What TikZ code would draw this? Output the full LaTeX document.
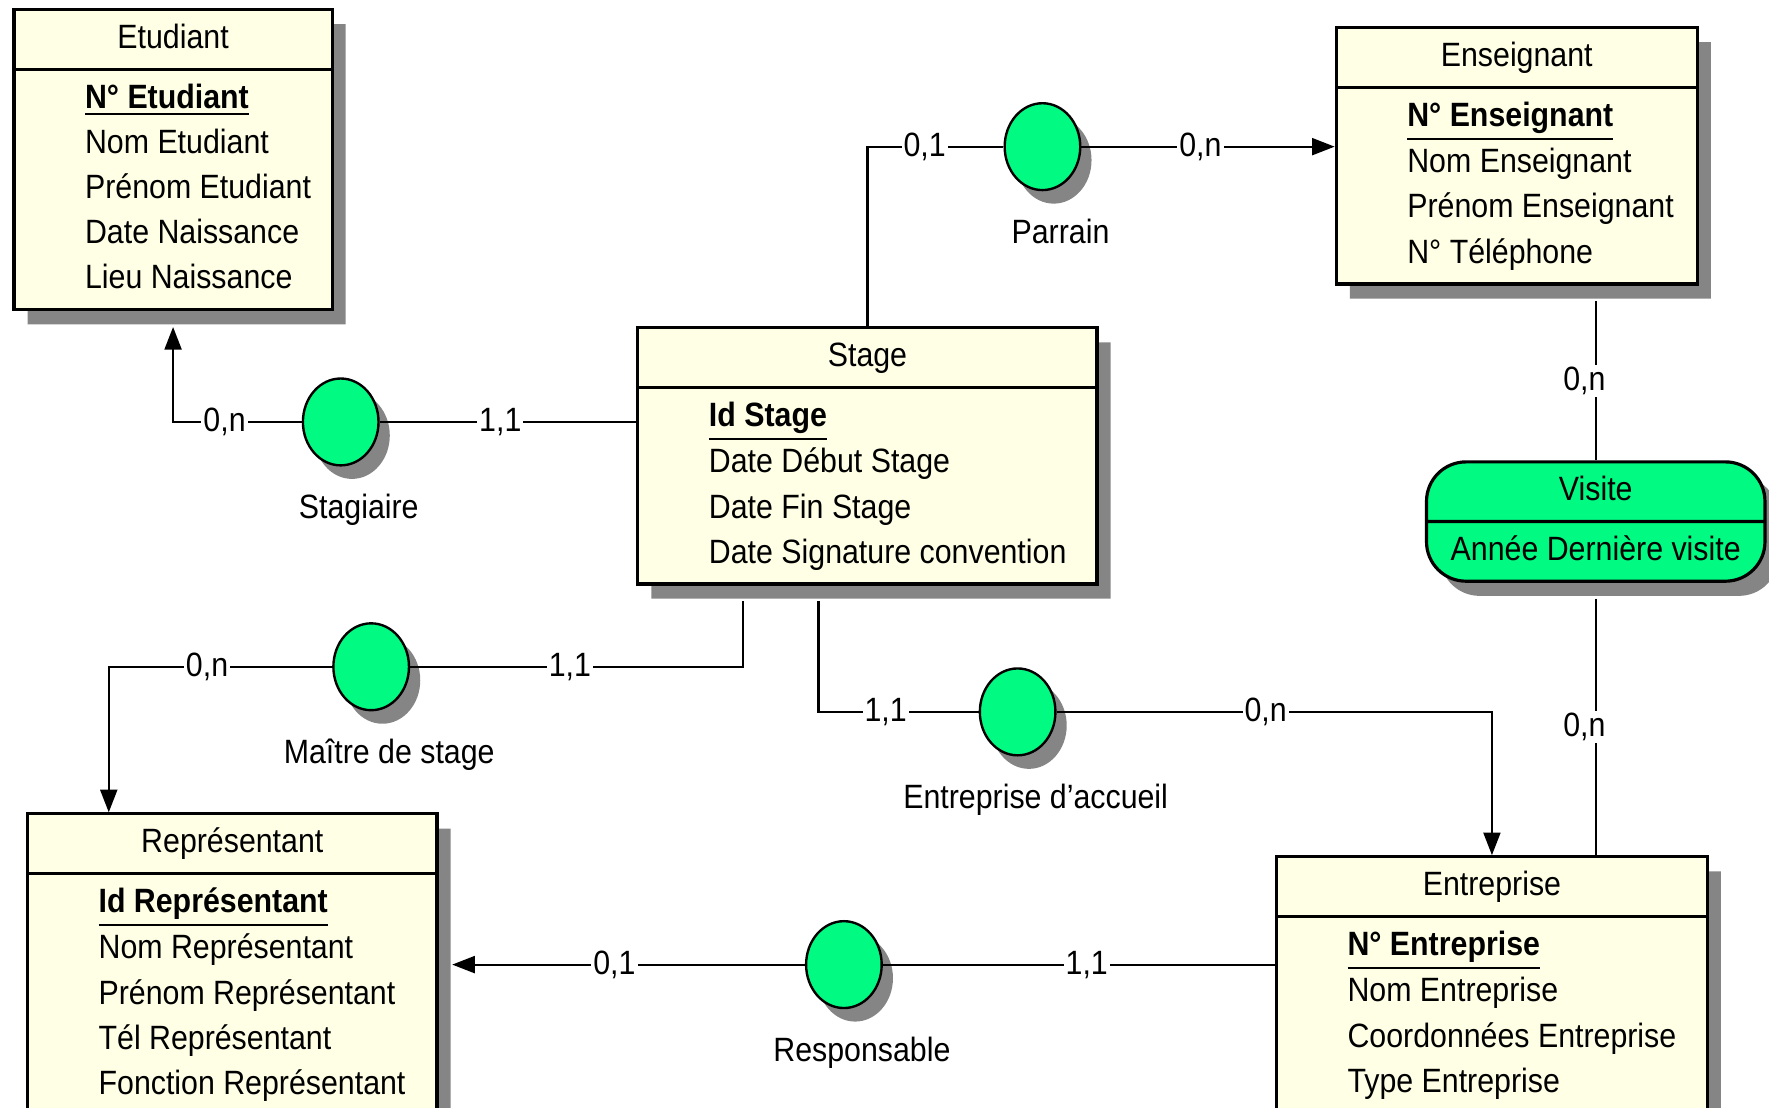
\documentclass[tikz,border=0pt]{standalone}
\usepackage{fontspec}
\setmainfont{Liberation Sans}[FakeStretch=0.9]
\usepackage{array}
\usetikzlibrary{arrows.meta,positioning,calc,shapes.multipart,shapes.geometric,shadows}
\definecolor{EntityCream}{HTML}{FFFFE6}
\definecolor{RelGreen}{HTML}{00FA82}
\definecolor{ShadowGrey}{HTML}{858585}
\newcommand{\etitle}[2]{\makebox[#1]{\strut #2}}
\newcommand{\eattrs}[2]{\begin{tabular}{@{\hspace{6.3mm}}p{\dimexpr#1-6.3mm\relax}@{}}#2\end{tabular}}
\newcommand{\ekey}[1]{\underline{\textbf{#1}}}

\begin{document}
\begin{tikzpicture}[
    every node/.style={font=\fontsize{8.5}{11.4}\selectfont},
    entity/.style={rectangle split,rectangle split parts=2,draw=black,line width=0.8pt,fill=EntityCream,inner xsep=0pt,inner ysep=0.5mm,anchor=north west,
      drop shadow={shadow xshift=1.2mm,shadow yshift=-1.3mm,fill=ShadowGrey,opacity=1}},
    visit/.style={entity,fill=RelGreen,rounded corners=3.5mm},
    relation/.style={ellipse,draw=black,line width=0.6pt,fill=RelGreen,minimum width=6.7mm,minimum height=7.7mm,inner sep=0pt,
      drop shadow={shadow xshift=1mm,shadow yshift=-1.2mm,fill=ShadowGrey,opacity=1}},
    rname/.style={label={[xshift=1.6mm,label distance=1.2mm]below:#1}},
    link/.style={draw=black,line width=0.55pt},
    arr/.style={link,-{Triangle[length=2mm,width=1.5mm]}},
    card/.style={fill=white,inner sep=0.5pt}
  ]
    \useasboundingbox (0,0) rectangle (15.68,-9.82);
    \clip (0,0) rectangle (15.68,-9.82);
    \node[entity] (etudiant) at (0.11,-0.07) {\etitle{2.82cm}{Etudiant}\nodepart{second}\eattrs{2.82cm}{\ekey{N° Etudiant}\\Nom Etudiant\\Prénom Etudiant\\Date Naissance\\Lieu Naissance}};
    \node[entity] (enseignant) at (11.83,-0.23) {\etitle{3.2cm}{Enseignant}\nodepart{second}\eattrs{3.2cm}{\ekey{N° Enseignant}\\Nom Enseignant\\Prénom Enseignant\\N° Téléphone}};
    \node[entity] (stage) at (5.64,-2.89) {\etitle{4.07cm}{Stage}\nodepart{second}\eattrs{4.07cm}{\ekey{Id Stage}\\Date Début Stage\\Date Fin Stage\\Date Signature convention}};
    \node[entity] (representant) at (0.23,-7.20) {\etitle{3.63cm}{Représentant}\nodepart{second}\eattrs{3.63cm}{\ekey{Id Représentant}\\Nom Représentant\\Prénom Représentant\\Tél Représentant\\Fonction Représentant}};
    \node[entity] (entreprise) at (11.30,-7.58) {\etitle{3.82cm}{Entreprise}\nodepart{second}\eattrs{3.82cm}{\ekey{N° Entreprise}\\Nom Entreprise\\Coordonnées Entreprise\\Type Entreprise}};
    \node[visit] (visite) at (12.63,-4.08) {\etitle{3cm}{Visite}\nodepart{second}\etitle{3cm}{Année Dernière visite}};
    \node[relation,rname=Stagiaire] (stagiaire) at (3.02,-3.74) {};
    \node[relation,rname=Parrain] (parrain) at (9.24,-1.30) {};
    \node[relation,rname=Maître de stage] (maitre) at (3.29,-5.91) {};
    \node[relation,rname=Entreprise d'accueil] (accueil) at (9.02,-6.31) {};
    \node[relation,rname=Responsable] (responsable) at (7.48,-8.55) {};
    \coordinate (ensfoot) at ([yshift=-1.4mm]enseignant.south);
    \coordinate (visfoot) at ([yshift=-1.4mm]visite.south);
    \coordinate (repside) at ([xshift=1.2mm]representant.east);
    \draw[link] (stagiaire.east) -- node[card,pos=0.47] {1,1} (stagiaire -| stage.west);
    \draw[arr] (stagiaire.west) -| node[card,pos=0.3] {0,n} ([yshift=-1.4mm]etudiant.south);
    \draw[link] (stage.north) |- node[card,pos=0.71] {0,1} (parrain.west);
    \draw[arr] (parrain.east) -- node[card,pos=0.47] {0,n} (parrain -| enseignant.west);
    \draw[link] ([xshift=-11.05mm,yshift=-1.4mm]stage.south) |- node[card,pos=0.76] {1,1} (maitre.east);
    \draw[arr] (maitre.west) -| node[card,pos=0.28] {0,n} ([xshift=-10.95mm]representant.north);
    \draw[link] ([xshift=-4.35mm,yshift=-1.4mm]stage.south) |- node[card,pos=0.71] {1,1} (accueil.west);
    \draw[arr] (accueil.east) -| node[card,pos=0.24] {0,n} (entreprise.north);
    \draw[link] (responsable -| entreprise.west) -- node[card,pos=0.48] {1,1} (responsable.east);
    \draw[arr] (responsable.west) -- node[card,pos=0.54] {0,1} (responsable -| repside);
    \draw[link] (ensfoot -| visite.north) -- node[card,xshift=-1mm] {0,n} (visite.north);
    \draw[link] (visfoot) -- node[card,xshift=-1mm] {0,n} (visfoot |- entreprise.north);
  \end{tikzpicture}
\end{document}
